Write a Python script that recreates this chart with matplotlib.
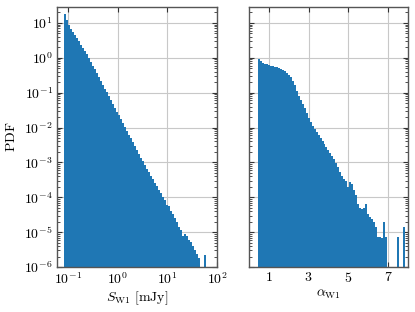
import numpy as np
import matplotlib
matplotlib.use("Agg")
import matplotlib.pyplot as plt
from matplotlib.ticker import LogLocator, NullLocator, NullFormatter

# left panel: log10 bin edges for S_W1 [mJy] and log10 of the PDF per bin
s_log_edges = np.round(np.arange(-1.07, 1.82, 0.04), 3)
s_log_pdf = [
    1.25, 1.09, 0.93, 0.84, 0.75, 0.65, 0.56, 0.47, 0.38, 0.29,
    0.19, 0.10, -0.00, -0.11, -0.22, -0.33, -0.44, -0.55, -0.66, -0.77,
    -0.88, -0.99, -1.10, -1.21, -1.32, -1.43, -1.54, -1.65, -1.76, -1.87,
    -1.98, -2.09, -2.20, -2.31, -2.42, -2.53, -2.64, -2.75, -2.86, -2.97,
    -3.08, -3.18, -3.28, -3.38, -3.48, -3.58, -3.68, -3.78, -3.88, -3.98,
    -4.07, -4.22, -4.25, -4.40, -4.47, -4.60, -4.72, -4.86, -4.93, -5.12,
    -5.05, -5.10, -5.22, -5.28, -5.40, -5.50, -5.62, -5.75, None, None,
    -5.65, None,
]

# right panel: alpha_W1 bin edges and log10 of the PDF per bin
a_edges = np.round(np.arange(0.45, 8.06, 0.1), 3)
a_log_pdf = [
    -0.03, -0.10, -0.14, -0.17, -0.19, -0.21, -0.22, -0.24, -0.25, -0.27,
    -0.29, -0.31, -0.34, -0.37, -0.42, -0.48, -0.55, -0.66, -0.78, -0.96,
    -1.08, -1.20, -1.32, -1.45, -1.58, -1.72, -1.83, -1.95, -2.03, -2.12,
    -2.21, -2.30, -2.38, -2.47, -2.55, -2.64, -2.72, -2.82, -2.91, -3.02,
    -3.14, -3.26, -3.38, -3.46, -3.52, -3.70, -3.56, -3.62, -3.80, -3.93,
    -4.19, -4.30, -4.33, -4.30, -4.20, -4.48, -4.55, -4.62, -4.72, -4.85,
    -5.14, -5.15, -5.16, -4.70, -5.15, None, None, None, None, None,
    -5.15, None, None, -4.86, None, None,
]

a_ticks = [1, 3, 5, 7]
a_ticklabels = ["$1$", "$3$", "$5$", "$7$"]

plt.rcParams["mathtext.fontset"] = "cm"
plt.rcParams["font.family"] = "serif"
plt.rcParams["font.serif"] = ["cmr10", "DejaVu Serif"]
plt.rcParams["axes.formatter.use_mathtext"] = True
plt.rcParams["font.size"] = 10

BASE = 1e-9
COLOR = "#1f77b4"


def to_pdf(log_vals):
    return np.array([BASE if v is None else 10.0 ** v for v in log_vals])


fig = plt.figure(figsize=(4.15, 3.12), dpi=100)
ax1 = fig.add_axes([0.137, 0.144, 0.386, 0.834])
ax2 = fig.add_axes([0.600, 0.144, 0.383, 0.834], sharey=ax1)

ax1.stairs(to_pdf(s_log_pdf), 10.0 ** s_log_edges, fill=True, color=COLOR,
           baseline=BASE, zorder=2)
ax2.stairs(to_pdf(a_log_pdf), a_edges, fill=True, color=COLOR,
           baseline=BASE, zorder=2)

ax1.set_xscale("log")
ax1.set_yscale("log")
ax1.set_xlim(0.06, 100)
ax1.set_ylim(1e-6, 29)
ax2.set_xlim(0, 8)

ax1.xaxis.set_major_locator(LogLocator(base=10, numticks=10))
ax1.xaxis.set_minor_locator(NullLocator())
ax1.yaxis.set_major_locator(LogLocator(base=10, numticks=20))
ax1.yaxis.set_minor_locator(LogLocator(base=10, subs=np.arange(2, 10), numticks=20))
ax1.yaxis.set_minor_formatter(NullFormatter())

ax2.set_xticks(a_ticks)
ax2.set_xticklabels(a_ticklabels)
ax2.tick_params(labelleft=False)

for ax in (ax1, ax2):
    ax.grid(True, color="#c8c8c8", linewidth=0.8, zorder=0)
    ax.set_axisbelow(True)
    ax.tick_params(which="both", direction="in", top=True, right=True,
                   color="#333333")
    ax.tick_params(which="major", length=3.5, width=0.8, pad=3)
    ax.tick_params(which="minor", length=2, width=0.6)
    for sp in ax.spines.values():
        sp.set_color("#555555")
        sp.set_linewidth(1.0)
        sp.set_zorder(3)

ax2.tick_params(labelleft=False)

ax1.set_ylabel(r"$\mathrm{PDF}$")
ax1.set_xlabel(r"$S_{\mathrm{W1}}\ [\mathrm{mJy}]$", labelpad=2)
ax2.set_xlabel(r"$\alpha_{\mathrm{W1}}$", labelpad=2)

fig.savefig("out.png", dpi=100)
